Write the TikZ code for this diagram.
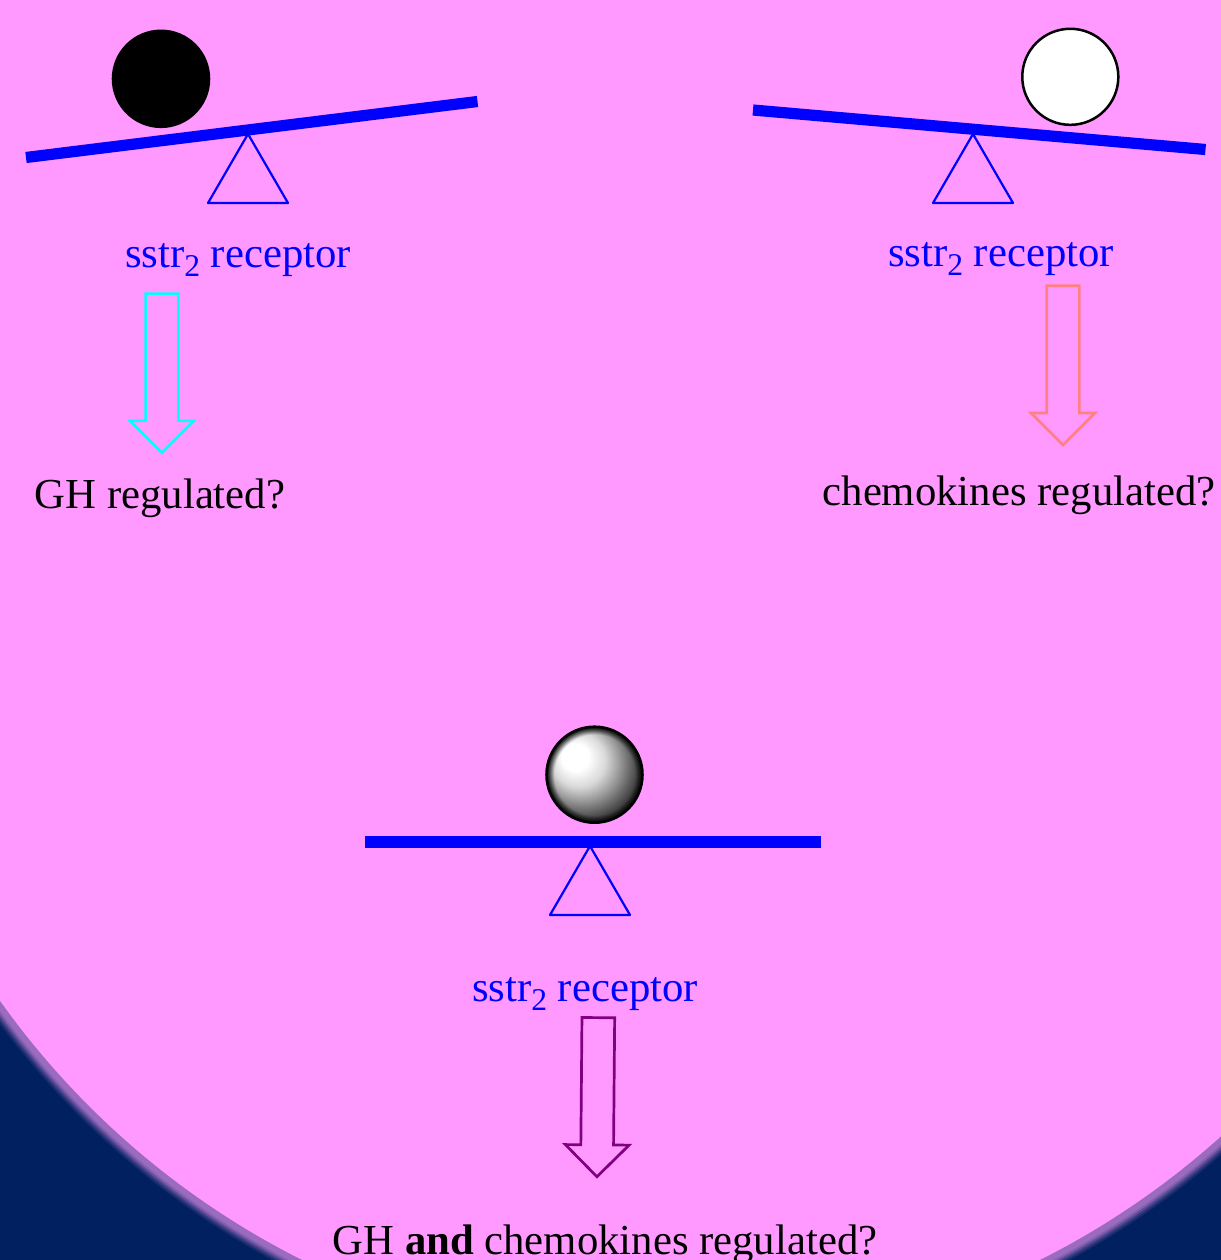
\documentclass[tikz,border=0pt]{standalone}
\usepackage{fontspec}
\setmainfont{Liberation Serif}
\usepackage{tikz}
\usetikzlibrary{shapes.arrows,shapes.geometric,fadings}
\definecolor{bgpink}{HTML}{FF99FF}
\definecolor{bgnavy}{HTML}{00205F}
\definecolor{bgedge}{HTML}{9B6BBF}
\definecolor{ghcyan}{HTML}{00FFFF}
\definecolor{chemosalmon}{HTML}{FF8080}
\definecolor{bothpurple}{HTML}{800080}
\pgfdeclareradialshading{greyball}{\pgfpoint{-11.7bp}{10.7bp}}{
    color(0bp)=(white); color(7bp)=(white); color(14bp)=(black!15);
    color(20bp)=(black!40); color(28bp)=(black!75); color(34bp)=(black); color(50bp)=(black)}
\pgfdeclareradialshading{rimshade}{\pgfpointorigin}{
    color(0bp)=(pgftransparent!100); color(21bp)=(pgftransparent!100);
    color(25bp)=(pgftransparent!0); color(50bp)=(pgftransparent!0)}
\pgfdeclarefading{rimfade}{\pgfuseshading{rimshade}}
\newcommand{\subtwo}{\raisebox{-0.5ex}{\fontsize{9}{10}\selectfont 2}}
\tikzset{
    ball/.style={circle,draw=black,line width=0.025cm,minimum size=0.96cm,inner sep=0pt},
    beam/.style={blue,line width=0.112cm},
    pivot/.style={blue,line width=0.022cm,line join=round},
    pathway/.style={single arrow,draw,line width=0.027cm,minimum height=1.59cm,
        single arrow head extend=0.155cm,inner xsep=0pt,inner ysep=0.15cm,rotate=-90},
    label/.style={font=\fontsize{12.15}{15}\selectfont,inner sep=0pt},
}
\begin{document}
\begin{tikzpicture}[x=0.01cm,y=-0.01cm]
    \useasboundingbox (0,0) rectangle (1220,1260);
    \fill[bgpink] (-10,-10) rectangle (1230,1270);
    \begin{scope}
        \clip (-10,900) rectangle (1230,1270);
        \fill[bgnavy] (-10,900) rectangle (1230,1270);
        \foreach \r/\m in {837/15,835/35,833/60,831/85,829/100}
            \fill[bgedge!\m!bgnavy] (671,524) circle (\r);
        \fill[bgpink] (671,524) circle (823);
    \end{scope}

    % left
    \coordinate (leftA) at (26,157.5);
    \coordinate (leftB) at (477.5,101.5);
    \draw[beam] (leftA) -- (leftB);
    \coordinate (leftT) at (248,134);
    \coordinate (leftL) at (208,203);
    \coordinate (leftR) at (288,203);
    \draw[pivot] (leftT) -- (leftL) -- (leftR) -- cycle;
    \node[ball,fill=black] (blackball) at (161,78.8) {};
    \node[label,blue] (leftrec) at (238,260) {sstr\subtwo{} receptor};
    \node[pathway,ghcyan] (leftarrow) at (162,365) {};
    \node[label] (gh) at (160,498) {GH regulated?};

    % right
    \coordinate (rightA) at (753,110);
    \coordinate (rightB) at (1205.5,149.5);
    \draw[beam] (rightA) -- (rightB);
    \coordinate (rightT) at (973,134);
    \coordinate (rightL) at (933,203);
    \coordinate (rightR) at (1013,203);
    \draw[pivot] (rightT) -- (rightL) -- (rightR) -- cycle;
    \node[ball,fill=white] (whiteball) at (1070.3,76.8) {};
    \node[label,blue] (rightrec) at (1001,259) {sstr\subtwo{} receptor};
    \node[pathway,chemosalmon] (rightarrow) at (1063,357.2) {};
    \node[label] (chemo) at (1019,495) {chemokines regulated?};

    % middle
    \coordinate (midA) at (365,842);
    \coordinate (midB) at (821,842);
    \draw[beam] (midA) -- (midB);
    \coordinate (midT) at (590,846);
    \coordinate (midL) at (550,915);
    \coordinate (midR) at (630,915);
    \draw[pivot] (midT) -- (midL) -- (midR) -- cycle;
    \node[ball,shading=greyball,draw=black] (greyball) at (594.5,774.7) {};
    \fill[black,path fading=rimfade] (greyball.center) circle (48);
    \node[label,blue] (midrec) at (585,994) {sstr\subtwo{} receptor};
    \node[pathway,bothpurple,rotate=-0.5] (midarrow) at (597.7,1089) {};
    \node[label] (both) at (605,1244) {GH \textbf{and} chemokines regulated?};
\end{tikzpicture}
\end{document}
